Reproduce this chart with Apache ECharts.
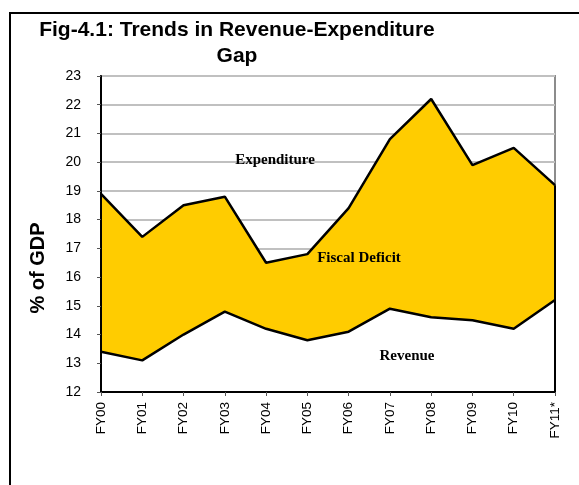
<!DOCTYPE html>
<html>
<head>
<meta charset="utf-8">
<script src="https://cdn.jsdelivr.net/npm/echarts@6/dist/echarts.min.js"></script>
<style>
  html, body { margin: 0; padding: 0; background: #fff; }
  #chart { width: 579px; height: 485px; }
</style>
</head>
<body>
<div id="chart"></div>
<script>
// values, % of GDP
const years = ['FY00', 'FY01', 'FY02', 'FY03', 'FY04', 'FY05', 'FY06', 'FY07', 'FY08', 'FY09', 'FY10', 'FY11*'];
const expenditure = [18.9, 17.4, 18.5, 18.8, 16.5, 16.8, 18.4, 20.8, 22.2, 19.9, 20.5, 19.2];
const revenue = [13.4, 13.1, 14.0, 14.8, 14.2, 13.8, 14.1, 14.9, 14.6, 14.5, 14.2, 15.2];
const yTicks = [12, 13, 14, 15, 16, 17, 18, 19, 20, 21, 22, 23];

const sans = '"Liberation Sans", Arial, sans-serif';
const serif = '"Liberation Serif", "Times New Roman", serif';
const yMin = yTicks[0];
const yMax = yTicks[yTicks.length - 1];
const last = years.length - 1;

const chart = echarts.init(document.getElementById('chart'));

chart.setOption({
  animation: false,
  grid: {
    left: 101,
    right: 24,
    top: 76,
    bottom: 93,
    show: true,
    borderColor: '#8c8c8c',
    borderWidth: 2,
  },
  xAxis: {
    type: 'category',
    data: years,
    boundaryGap: false,
    z: 5,
    axisLine: { lineStyle: { color: '#000', width: 2 } },
    axisTick: { show: true, length: 4, lineStyle: { color: '#555' } },
    axisLabel: {
      rotate: 90,
      margin: 10,
      color: '#000',
      fontFamily: sans,
      fontSize: 13.5,
      interval: 0,
    },
  },
  yAxis: [
    {
      type: 'value',
      min: yMin,
      max: yMax,
      interval: 1,
      axisLine: { show: false },
      axisTick: { show: false },
      axisLabel: { show: false },
      splitLine: { lineStyle: { color: '#c0c0c0', width: 2 } },
    },
    {
      type: 'value',
      position: 'left',
      min: yMin,
      max: yMax,
      interval: 1,
      z: 5,
      axisLine: { show: true, lineStyle: { color: '#000', width: 2 } },
      axisTick: { show: true, length: 4, lineStyle: { color: '#555' } },
      axisLabel: { margin: 20, color: '#000', fontFamily: sans, fontSize: 14 },
      splitLine: { show: false },
    },
  ],
  series: [
    {
      name: 'Expenditure',
      type: 'line',
      data: expenditure,
      symbol: 'none',
      lineStyle: { color: '#000', width: 2.5 },
      areaStyle: { color: '#ffcc00', opacity: 1, origin: 'start' },
      markLine: {
        silent: true,
        symbol: 'none',
        label: { show: false },
        lineStyle: { color: '#000', width: 2, type: 'solid' },
        data: [[
          { coord: [years[last], yMin] },
          { coord: [years[last], expenditure[last]] },
        ]],
      },
    },
    {
      name: 'Revenue',
      type: 'line',
      data: revenue,
      symbol: 'none',
      lineStyle: { color: '#000', width: 2.5 },
      areaStyle: { color: '#fff', opacity: 1, origin: 'start' },
    },
  ],
  graphic: [
    {
      type: 'rect',
      shape: { x: 10, y: 13, width: 800, height: 700 },
      style: { fill: 'none', stroke: '#000', lineWidth: 2 },
      silent: true,
    },
    {
      type: 'text',
      x: 237,
      y: 17,
      style: {
        text: 'Fig-4.1: Trends in Revenue-Expenditure\nGap',
        font: 'bold 21px ' + sans,
        fill: '#000',
        align: 'center',
        lineHeight: 26,
      },
    },
    {
      type: 'text',
      x: 38,
      y: 268,
      rotation: Math.PI / 2,
      style: {
        text: '% of GDP',
        font: 'bold 20px ' + sans,
        fill: '#000',
        align: 'center',
        verticalAlign: 'middle',
      },
    },
    {
      type: 'text',
      x: 275,
      y: 160,
      z: 10,
      style: { text: 'Expenditure', font: 'bold 15px ' + serif, fill: '#000', align: 'center', verticalAlign: 'middle' },
    },
    {
      type: 'text',
      x: 359,
      y: 258,
      z: 10,
      style: { text: 'Fiscal Deficit', font: 'bold 15px ' + serif, fill: '#000', align: 'center', verticalAlign: 'middle' },
    },
    {
      type: 'text',
      x: 407,
      y: 356,
      z: 10,
      style: { text: 'Revenue', font: 'bold 15px ' + serif, fill: '#000', align: 'center', verticalAlign: 'middle' },
    },
  ],
});
</script>
</body>
</html>
